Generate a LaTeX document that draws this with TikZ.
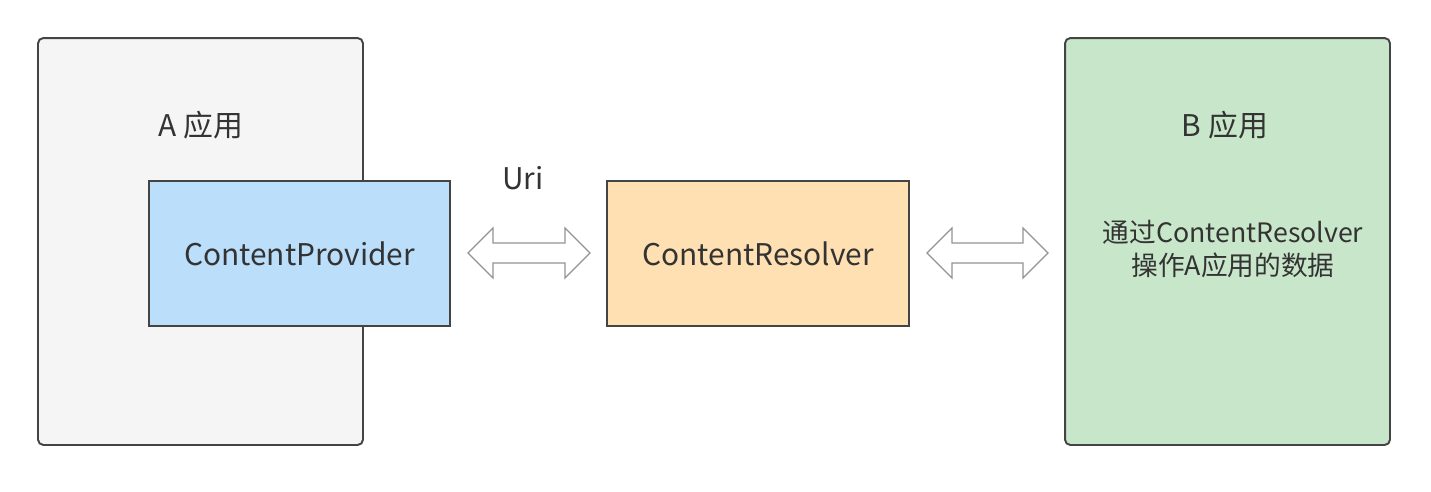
\documentclass[tikz,border=0pt]{standalone}
\usepackage{fontspec}
\setmainfont{Noto Sans CJK SC}
\usetikzlibrary{positioning}
\definecolor{appgray}{HTML}{F5F5F5}
\definecolor{provblue}{HTML}{BBDEFB}
\definecolor{resorange}{HTML}{FFE0B2}
\definecolor{appgreen}{HTML}{C8E6C9}
\definecolor{edgegray}{HTML}{444444}
\definecolor{txtgray}{HTML}{333333}
\tikzset{
    app/.style={
        rectangle,
        rounded corners=3pt,
        draw=edgegray,
        line width=1.1pt,
        minimum width=6.5cm,
        minimum height=8.14cm
    },
    comp/.style={
        rectangle,
        draw=edgegray,
        line width=1.1pt,
        minimum width=6.03cm,
        minimum height=2.9cm,
        text=txtgray,
        font=\fontsize{17}{20}\selectfont
    },
    fat_arrow/.style={
        draw=gray!85,
        fill=white,
        line width=0.7pt,
        line join=miter
    }
}
% hollow double arrow: left x, right x, middle y
\newcommand{\dblarrow}[3]{%
    \draw[fat_arrow] (#1,#3) -- ++(25,-25) -- ++(0,15) -- (#2-25,#3-10) -- ++(0,-15)
        -- (#2,#3) -- ++(-25,25) -- ++(0,-15) -- (#1+25,#3+10) -- ++(0,15) -- cycle;}

\begin{document}
\begin{tikzpicture}[
    x=0.02cm, y=-0.02cm,
    lbl/.style={text=txtgray, align=center, font=\fontsize{17}{20}\selectfont}
]
    \useasboundingbox (0,0) rectangle (1431,491);

    % Apps
    \node (appA) [app, fill=appgray] at (200.5,241.5) {};
    \node (appB) [app, fill=appgreen] at (1227.5,241.5) {};

    % Components
    \node (provider) [comp, fill=provblue] at (299.5,253.5) {ContentProvider};
    \node (resolver) [comp, fill=resorange] at (758,253.5) {ContentResolver};

    % Labels
    \node (labA) [lbl] at (201,125) {A 应用};
    \node (labB) [lbl] at (1225,125) {B 应用};
    \node (labUri) [lbl] at (523,178) {Uri};
    \node (labOp) [lbl, font=\fontsize{15.2}{18.7}\selectfont] at (1233,249) {通过ContentResolver\\操作A应用的数据};

    % Arrows
    \dblarrow{468}{590}{253}
    \dblarrow{927}{1048}{253}

\end{tikzpicture}
\end{document}
